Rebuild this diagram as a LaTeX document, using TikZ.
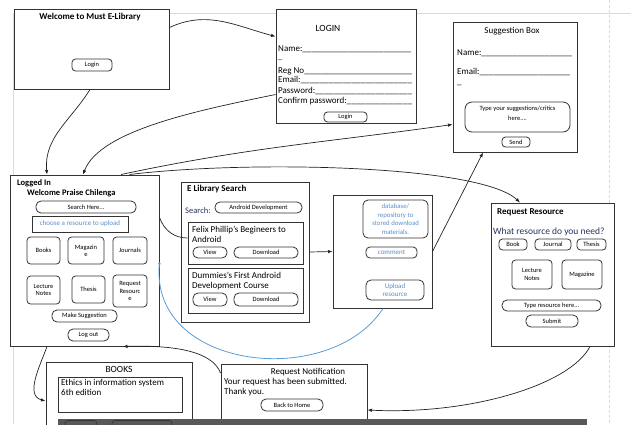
\documentclass[tikz,border=0pt]{standalone}
\usepackage{fontspec}
\setmainfont{Carlito}
\usetikzlibrary{arrows.meta,calc}
\definecolor{panelc}{HTML}{333333}
\definecolor{linec}{HTML}{222222}
\definecolor{bluet}{HTML}{5B8FC7}
\definecolor{bluec}{HTML}{5B9BD5}
\definecolor{navy}{HTML}{28325F}
\definecolor{pageln}{HTML}{DADADA}
\definecolor{bandc}{HTML}{585858}
\newcommand\fsz[2]{\fontsize{#1}{#2}\selectfont}
\newcommand\formline[2]{\makebox[#1][l]{#2\xleaders\hbox{\_}\hfill}}
\begin{document}
\begin{tikzpicture}[x=1pt,y=-1pt,
 panel/.style={draw=panelc,line width=1pt,fill=white,inner sep=0pt},
 inbox/.style={draw=panelc,line width=1pt,inner sep=0pt},
 btn/.style={draw=panelc,line width=0.8pt,fill=white,rounded corners=3.5pt,inner sep=0pt,align=center,font=\fsz{6.5}{7.2},text=black},
 pill/.style={btn,rounded corners=5pt},
 txt/.style={inner sep=0pt,anchor=west,font=\fsz{9}{10}},
 ttl/.style={inner sep=0pt,font=\bfseries\fsz{9}{10}},
 conn/.style={draw=linec,line width=0.7pt},
 arr/.style={conn,-{Latex[length=4.5pt,width=3.5pt]}},
]
\useasboundingbox (0,0) rectangle (631,424);
\clip (0,0) rectangle (631,424);
% page guides
\draw[pageln,line width=0.8pt] (13,424) -- (13,13) -- (631,13);
\draw[pageln,line width=0.8pt,dash pattern=on 3pt off 2pt] (609,0) -- (609,424);

% Welcome
\node[panel,minimum width=155pt,minimum height=80pt] (wel) at (91.5,49) {};
\node[ttl] (welt) at (90,17) {Welcome to Must E-Library};
\node[btn,minimum width=40pt,minimum height=12pt] (welbtn) at (92,65) {Login};

% LOGIN
\node[panel,minimum width=140pt,minimum height=114pt] (login) at (346,66) {};
\node[inner sep=0pt,font=\fsz{9.5}{10}] (logint) at (328,28) {LOGIN};
\node[txt] (lname) at (278,49) {\formline{133pt}{Name:}};
\node[txt,font=\fsz{8}{9}] (lname2) at (278,60) {\_};
\node[txt] (lreg) at (278,71) {\formline{134pt}{Reg No}};
\node[txt] (lmail) at (278,80) {\formline{134pt}{Email:}};
\node[txt] (lpass) at (278,91) {\formline{134pt}{Password:}};
\node[txt] (lconf) at (278,101) {\formline{134pt}{Confirm password:}};
\node[btn,minimum width=43pt,minimum height=10pt] (loginbtn) at (345.5,117) {Login};

% Suggestion box
\node[panel,minimum width=124pt,minimum height=130pt] (sug) at (515,87) {};
\node[inner sep=0pt,font=\fsz{9}{10}] (sugt) at (512,31) {Suggestion Box};
\node[txt] (sname) at (457,53) {\formline{115pt}{Name:}};
\node[txt] (smail) at (457,72) {\formline{113pt}{Email:}};
\node[txt] (smail2) at (457,85) {\_};
\node[btn,rounded corners=7pt,minimum width=105pt,minimum height=30pt] (sugbox) at (517.5,117) {};
\node[inner sep=0pt,align=center,font=\fsz{6.5}{10}] (sugboxt) at (517.5,113) {Type your suggestions/critics\\here....};
\node[btn,minimum width=28pt,minimum height=10pt] (send) at (516,142) {Send};

% Logged In
\node[panel,minimum width=149pt,minimum height=171pt] (li) at (84.5,260.5) {};
\node[ttl,anchor=west,font=\bfseries\fsz{8.5}{9}] (lit1) at (17,183) {Logged In};
\node[ttl,anchor=west,font=\bfseries\fsz{8.5}{9}] (lit2) at (27,193) {Welcome Praise Chilenga};
\node[pill,minimum width=100pt,minimum height=12pt] (search) at (86,207) {Search Here...};
\node[inbox,line width=0.8pt,minimum width=96pt,minimum height=16pt,font=\fsz{7}{8},text=bluet] (choose) at (80,224) {choose a resource to upload};
\node[btn,minimum width=33pt,minimum height=27pt] (books) at (43.5,250.5) {Books};
\node[btn,minimum width=36pt,minimum height=27pt] (maga) at (86,250.5) {Magazin\\e};
\node[btn,minimum width=34pt,minimum height=27pt] (jour) at (130,250.5) {Journals};
\node[btn,minimum width=33pt,minimum height=28pt] (lect) at (43.5,290) {Lecture\\Notes};
\node[btn,minimum width=33pt,minimum height=27pt] (thes) at (88.5,289.5) {Thesis};
\node[btn,minimum width=34pt,minimum height=32pt] (reqr) at (130,291) {Request\\Resourc\\e};
\node[pill,minimum width=65pt,minimum height=12pt] (mksug) at (84.5,316) {Make Suggestion};
\node[pill,minimum width=41pt,minimum height=12pt] (logout) at (88.5,335) {Log out};

% E Library Search
\node[panel,minimum width=128pt,minimum height=140pt] (els) at (245,252) {};
\node[ttl,anchor=west] (elst) at (187,189) {E Library Search};
\node[txt,font=\fsz{8.5}{9},text=navy] (elss) at (185,211) {Search:};
\node[pill,minimum width=87pt,minimum height=11pt] (android) at (258.5,207.5) {Android Development};
\node[inbox,minimum width=115pt,minimum height=42pt] (res1) at (245.5,243) {};
\node[txt,anchor=north west,align=left] (res1t) at (192,226) {Felix Phillip's Begineers to\\Android};
\node[pill,minimum width=34pt,minimum height=11pt] (view1) at (210,252.5) {View};
\node[pill,minimum width=64pt,minimum height=11pt] (dl1) at (266,252.5) {Download};
\node[inbox,minimum width=115pt,minimum height=45pt] (res2) at (245.5,290.5) {};
\node[txt,anchor=north west,align=left] (res2t) at (192,272) {Dummies's First Android\\Development Course};
\node[pill,minimum width=34pt,minimum height=13pt] (view2) at (210,299.5) {View};
\node[pill,minimum width=64pt,minimum height=13pt] (dl2) at (266,299.5) {Download};

% middle repository box
\node[panel,minimum width=99pt,minimum height=113pt] (mid) at (382.5,251.5) {};
\node[btn,rounded corners=5pt,minimum width=65pt,minimum height=38pt,text=bluet,font=\fsz{6.8}{8.6}] (db) at (395.5,219) {database/\\repository to\\stored download\\materials.};
\node[btn,rounded corners=4pt,minimum width=51pt,minimum height=11pt,text=bluet,font=\fsz{7}{8}] (comment) at (391.5,252.5) {comment};
\node[btn,rounded corners=5pt,minimum width=58pt,minimum height=20pt,text=bluet,font=\fsz{7}{8.5}] (upload) at (395,290) {Upload\\resource};

% Request Resource
\node[panel,minimum width=123pt,minimum height=143pt] (rr) at (552.5,274.5) {};
\node[ttl,anchor=west] (rrt) at (497,212) {Request Resource};
\node[txt,text=navy,font=\fsz{9.5}{10}] (rrq) at (493,232) {What resource do you need?};
\node[btn,minimum width=28pt,minimum height=11pt] (rbook) at (513,244.5) {Book};
\node[btn,minimum width=36pt,minimum height=11pt] (rjour) at (553,244.5) {Journal};
\node[btn,minimum width=29pt,minimum height=11pt] (rthes) at (591.5,244.5) {Thesis};
\node[btn,minimum width=40pt,minimum height=29pt] (rlect) at (532,274.5) {Lecture\\Notes};
\node[btn,minimum width=40pt,minimum height=29pt] (rmaga) at (582,274.5) {Magazine};
\node[pill,minimum width=99pt,minimum height=11pt] (rtype) at (551.5,305.5) {Type resource here...};
\node[pill,minimum width=52pt,minimum height=12pt] (rsub) at (552,321) {Submit};

% BOOKS
\node[panel,minimum width=146pt,minimum height=80pt,anchor=north] (bk) at (119,362) {};
\node[inner sep=0pt,font=\fsz{9.5}{10}] (bkt) at (119,369) {BOOKS};
\node[inbox,minimum width=124pt,minimum height=35pt] (bkin) at (120,394.5) {};
\node[txt,anchor=north west,align=left] (bkint) at (61,379.5) {Ethics in information system\\6th edition};

% Request Notification
\node[panel,minimum width=146pt,minimum height=80pt,anchor=north] (rn) at (294,364) {};
\node[inner sep=0pt,font=\fsz{9}{10}] (rnt) at (308,372) {Request Notification};
\node[txt,anchor=north west,align=left] (rntx) at (224,378.5) {Your request has been submitted.\\Thank you.};
\node[pill,minimum width=62pt,minimum height=12pt] (home) at (292,405) {Back to Home};

% bottom dark band
\fill[bandc] (58,419) rectangle (587,430);
\draw[black!80,line width=0.6pt,rounded corners=3pt] (65,420.5) rectangle (97,432);
\draw[black!80,line width=0.6pt,rounded corners=3pt] (112,420.5) rectangle (172,432);

% connectors
\draw[arr] ([yshift=-19pt]wel.north east) to[out=25,in=165] ([yshift=-28pt]login.north west);
\draw[arr] ([xshift=-1.5pt]wel.south) to[out=-122,in=95] ([xshift=-37.5pt]li.north);
\draw[arr] ([yshift=-86pt]login.north west) .. controls (200,110) and (100,130) .. ([xshift=-1.5pt]li.north);
\draw[arr] ([xshift=36.5pt]li.north) to[out=12,in=188] ([yshift=-103pt]sug.north west);
\draw[arr] ([xshift=45pt]li.north) .. controls (250,160) and (480,165) .. ([xshift=-32.5pt]rr.north);
\draw[conn] ([yshift=-43pt]li.north east) to[out=-70,in=180] ([yshift=5pt]res1.west);
\draw[arr] (els.east) -- (mid.west);
\draw[arr] (mid.east) -- ([xshift=-32pt]sug.south);
\draw[arr] ([xshift=37.5pt]rr.south) .. controls (570,385) and (470,415) .. ([yshift=-46pt]rn.north east);
\draw[arr] ([yshift=-9pt]rn.north west) .. controls (212,350) and (170,345) .. ([xshift=38.5pt]li.south);
\draw[arr] ([xshift=-37.5pt]li.south) to[out=-110,in=165] ([yshift=-39pt]bk.north west);
\draw[bluec,line width=0.8pt,-{Circle[length=2.5pt]}] ([xshift=0.5pt]mid.south) .. controls (330,390) and (150,370) .. ([yshift=-88pt]li.north east);
\end{tikzpicture}
\end{document}
